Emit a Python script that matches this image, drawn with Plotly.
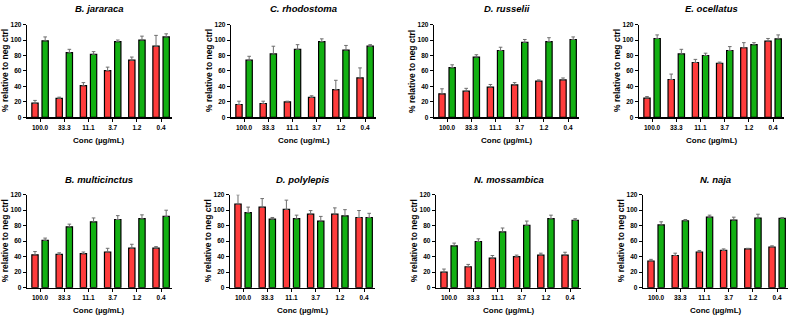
import plotly.graph_objects as go

W, H = 789, 319

categories = ["100.0", "33.3", "11.1", "3.7", "1.2", "0.4"]

titles = ["B. jararaca", "C. rhodostoma", "D. russelii", "E. ocellatus",
          "B. multicinctus", "D. polylepis", "N. mossambica", "N. naja"]
x_titles = ["Conc (µg/mL)", "Conc (ug/mL)", "Conc (µg/mL)", "Conc (µg/mL)",
            "Conc (µg/mL)", "Conc (µg/mL)", "Conc (µg/mL)", "Conc (µg/mL)"]

# red series values and upper error deltas
b_jararaca_red = [18.4, 24.7, 41, 60.6, 74, 92]
b_jararaca_red_err = [3.6, 1.5, 4, 4.4, 4, 14]
b_jararaca_green = [99, 83.6, 81.5, 98, 100, 104]
b_jararaca_green_err = [5, 4.4, 3.5, 2, 5, 4]

c_rhodostoma_red = [16.7, 18, 20, 26, 36, 51]
c_rhodostoma_red_err = [4.3, 3, 1, 2, 12, 13]
c_rhodostoma_green = [74, 82, 88, 98, 87, 92]
c_rhodostoma_green_err = [5, 10, 6, 3.5, 6, 2]

d_russelii_red = [30.5, 34, 39.3, 42, 47, 48.5]
d_russelii_red_err = [6.5, 3.6, 3.3, 3, 1.5, 2.5]
d_russelii_green = [64.4, 78, 86.5, 97, 98, 100.7]
d_russelii_green_err = [3.6, 3, 4.2, 3.7, 5, 3.3]

e_ocellatus_red = [25, 49, 71, 70, 90, 98.6]
e_ocellatus_red_err = [2, 7, 4, 1.5, 6.6, 3.4]
e_ocellatus_green = [102, 82, 80, 86.5, 94, 101.6]
e_ocellatus_green_err = [4.6, 6, 3, 5, 2.6, 5]

b_multicinctus_red = [42.4, 43, 44, 46, 51, 51]
b_multicinctus_red_err = [4.2, 2, 2, 4.8, 5, 2]
b_multicinctus_green = [61, 78.5, 85, 88, 89, 92]
b_multicinctus_green_err = [3, 3.5, 5, 5, 5, 8]

d_polylepis_red = [108, 104, 101, 95, 95, 90.6]
d_polylepis_red_err = [12, 11, 12, 4.5, 8, 9]
d_polylepis_green = [97, 88.5, 89, 86, 92.7, 90.6]
d_polylepis_green_err = [7, 2.1, 4.6, 6, 8, 5.4]

n_mossambica_red = [20, 27, 38, 40, 42, 42]
n_mossambica_red_err = [4, 3, 3.5, 2, 2.5, 3.7]
n_mossambica_green = [54, 59.6, 72, 80.6, 89, 87]
n_mossambica_green_err = [3.5, 3.4, 5, 5.4, 4.6, 2]

n_naja_red = [34.4, 41.5, 46, 48, 50, 52.5]
n_naja_red_err = [2.1, 3, 2, 2, 0.8, 1.5]
n_naja_green = [81, 86.4, 91, 87.3, 89.8, 89.4]
n_naja_green_err = [4, 1.6, 2.6, 3.7, 5, 1.2]

panels = [
    (b_jararaca_red, b_jararaca_red_err, b_jararaca_green, b_jararaca_green_err),
    (c_rhodostoma_red, c_rhodostoma_red_err, c_rhodostoma_green, c_rhodostoma_green_err),
    (d_russelii_red, d_russelii_red_err, d_russelii_green, d_russelii_green_err),
    (e_ocellatus_red, e_ocellatus_red_err, e_ocellatus_green, e_ocellatus_green_err),
    (b_multicinctus_red, b_multicinctus_red_err, b_multicinctus_green, b_multicinctus_green_err),
    (d_polylepis_red, d_polylepis_red_err, d_polylepis_green, d_polylepis_green_err),
    (n_mossambica_red, n_mossambica_red_err, n_mossambica_green, n_mossambica_green_err),
    (n_naja_red, n_naja_red_err, n_naja_green, n_naja_green_err),
]

RED = "#ff3c3c"
GREEN = "#12b012"
FONT = "Liberation Sans, Arial, sans-serif"

# pixel layout of each plot area: (left, top, bottom)
lefts = [27, 231, 434, 639, 27, 230, 436, 643]
plot_w = 145
row_top = [21, 195]
row_bot = [116, 290]

fig = go.Figure()
annotations = []
layout = {}

for i, (rv, re, gv, ge) in enumerate(panels):
    n = i + 1
    xa = "x" if n == 1 else f"x{n}"
    ya = "y" if n == 1 else f"y{n}"
    row = 0 if i < 4 else 1
    for vals, errs, col in ((rv, re, RED), (gv, ge, GREEN)):
        fig.add_trace(go.Bar(
            x=categories, y=vals, xaxis=xa, yaxis=ya,
            marker=dict(color=col, line=dict(color="black", width=1.2)),
            error_y=dict(type="data", symmetric=False, array=errs,
                         arrayminus=[0] * len(errs), color="#6e6e6e",
                         thickness=1, width=1.8),
            showlegend=False,
        ))
    left = lefts[i]
    x0, x1 = left / W, (left + plot_w) / W
    y0, y1 = 1 - row_bot[row] / H, 1 - row_top[row] / H
    layout["xaxis" if n == 1 else f"xaxis{n}"] = dict(
        domain=[x0, x1], anchor=ya, type="category", range=[-0.54, 5.45],
        showline=True, linecolor="black", linewidth=1.3,
        ticks="outside", ticklen=3, tickwidth=1, tickcolor="black",
        tickfont=dict(family=FONT, size=6.5, color="black", weight="bold"),
        showgrid=False, zeroline=False, fixedrange=True,
    )
    layout["yaxis" if n == 1 else f"yaxis{n}"] = dict(
        domain=[y0, y1], anchor=xa, range=[0, 120], tickvals=[0, 20, 40, 60, 80, 100, 120],
        showline=True, linecolor="black", linewidth=1.3,
        ticks="outside", ticklen=3, tickwidth=1, tickcolor="black",
        tickfont=dict(family=FONT, size=6.5, color="black", weight="bold"),
        showgrid=False, zeroline=False, fixedrange=True,
    )
    cx = (left + plot_w / 2) / W
    annotations.append(dict(
        text=titles[i], xref="paper", yref="paper", x=cx,
        y=1 - (row_top[row] - 16) / H, xanchor="center", yanchor="middle",
        showarrow=False,
        font=dict(family=FONT, size=9.5, color="black", weight="bold", style="italic"),
    ))
    annotations.append(dict(
        text=x_titles[i], xref="paper", yref="paper", x=cx,
        y=1 - (row_bot[row] + 23.5) / H, xanchor="center", yanchor="middle",
        showarrow=False,
        font=dict(family=FONT, size=8, color="black", weight="bold"),
    ))
    annotations.append(dict(
        text="% relative to neg ctrl", xref="paper", yref="paper",
        x=(left - 22) / W, y=1 - (row_top[row] + row_bot[row]) / 2 / H,
        xanchor="center", yanchor="middle", textangle=-90, showarrow=False,
        font=dict(family=FONT, size=8.5, color="black", weight="bold"),
    ))

fig.update_layout(
    width=W, height=H, margin=dict(l=0, r=0, t=0, b=0),
    paper_bgcolor="white", plot_bgcolor="white",
    barmode="group", bargap=0.16, bargroupgap=0.38,
    annotations=annotations, **layout,
)

fig.write_html(
    "out.html",
    config={"displayModeBar": False, "staticPlot": True},
    post_script="document.body.style.margin='0';document.body.style.overflow='hidden';",
)
